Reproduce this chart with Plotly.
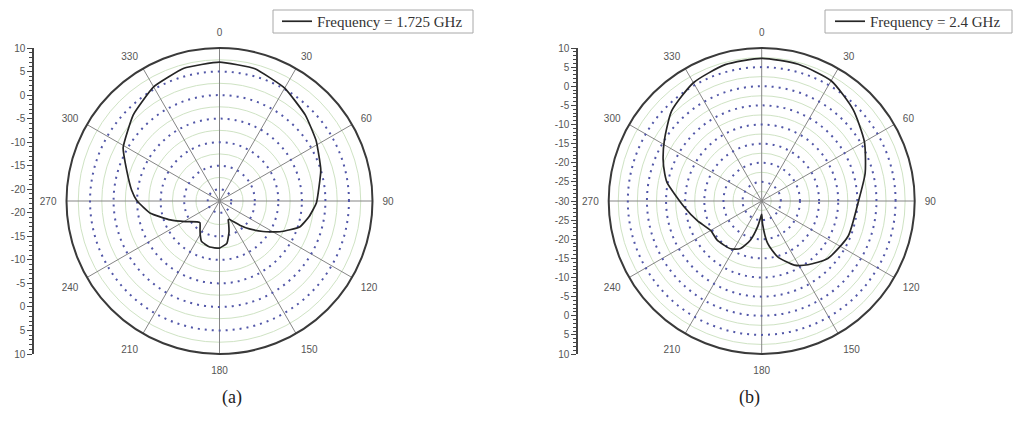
import plotly.graph_objects as go

# ---------------- data ----------------
angle_ticks = [0, 30, 60, 90, 120, 150, 180, 210, 240, 270, 300, 330]

# (a) Frequency = 1.725 GHz
theta_a = [0, 15, 30, 45, 58, 73, 91, 100, 108, 117, 125, 133, 140, 146, 151, 155, 158,
           163, 170, 180, 192, 198, 204, 210, 214, 222, 227, 239, 249, 260, 270, 277,
           288, 299, 315, 330, 345, 360]
r_a = [7.0, 6.6, 5.2, 3.3, 1.7, 0.0, -1.9, -3.2, -4.6, -8.1, -11.2, -13.8, -15.8, -17.2,
       -18.0, -18.1, -17.3, -15.6, -13.4, -12.5, -12.5, -12.8, -13.1, -14.3, -15.1, -16.3,
       -16.0, -14.0, -11.3, -7.6, -5.0, -3.7, -1.8, 0.9, 3.4, 5.5, 6.7, 7.0]

# (b) Frequency = 2.4 GHz
theta_b = [0, 15, 30, 45, 60, 75, 91, 112, 131, 144, 153, 164, 172, 178, 180, 183, 189,
           196, 204, 213, 229, 240, 253, 266, 281, 286, 293, 302, 315, 330, 345, 360]
r_b = [7.3, 7.0, 6.3, 3.8, 1.0, -2.0, -4.8, -5.6, -7.1, -9.4, -11.2, -14.8, -18.8, -24.1,
       -26.5, -25.9, -23.2, -19.4, -16.4, -15.1, -14.5, -14.6, -12.4, -9.6, -4.8, -3.6,
       -2.0, 0.0, 3.3, 5.7, 6.9, 7.3]

range_a = [-22.5, 10]
range_b = [-30, 10]
major_a = [5, 0, -5, -10, -15, -20]
minor_a = [7.5, 2.5, -2.5, -7.5, -12.5, -17.5]
major_b = [5, 0, -5, -10, -15, -20, -25]
minor_b = [7.5, 2.5, -2.5, -7.5, -12.5, -17.5, -22.5, -27.5]
scale_a = [10, 5, 0, -5, -10, -15, -20]
scale_b = [10, 5, 0, -5, -10, -15, -20, -25, -30]

legend_a = "Frequency = 1.725 GHz"
legend_b = "Frequency = 2.4 GHz"

# ---------------- styling ----------------
W, H = 1015, 421
DOT = "#5257a8"
GREEN = "#cfe3c4"
SPOKE = "#858585"
OUTER = "#3a3a3a"
LINE = "#262626"
TXT = "#555555"
SERIF = "Liberation Serif, Times New Roman, serif"
SANS = "Liberation Sans, Arial, sans-serif"


def px_dom(cx, cy, rad):
    return dict(x=[(cx - rad) / W, (cx + rad) / W],
                y=[1 - (cy + rad) / H, 1 - (cy - rad) / H])


dom_a = px_dom(219.5, 201, 153)
dom_b = px_dom(761.7, 201, 153)

fig = go.Figure()

fig.add_trace(go.Scatterpolar(r=[], theta=[], subplot="polar", showlegend=False))
fig.add_trace(go.Scatterpolar(r=[], theta=[], subplot="polar3", showlegend=False))
fig.add_trace(go.Scatterpolar(r=r_a, theta=theta_a, subplot="polar2", mode="lines",
                              line=dict(color=LINE, width=1.7, shape="spline",
                                        smoothing=0.4),
                              name=legend_a, legend="legend", showlegend=True))
fig.add_trace(go.Scatterpolar(r=r_b, theta=theta_b, subplot="polar4", mode="lines",
                              line=dict(color=LINE, width=1.7, shape="spline",
                                        smoothing=0.6),
                              name=legend_b, legend="legend2", showlegend=True))
fig.add_trace(go.Scatter(x=[], y=[], xaxis="x", yaxis="y", showlegend=False))
fig.add_trace(go.Scatter(x=[], y=[], xaxis="x2", yaxis="y2", showlegend=False))


def base_polar(dom, rng, minor):
    return dict(
        domain=dom, bgcolor="white",
        radialaxis=dict(range=rng, tickmode="array", tickvals=minor, showticklabels=False,
                        ticks="", showline=False, gridcolor=GREEN, gridwidth=1),
        angularaxis=dict(rotation=90, direction="clockwise", showgrid=False,
                         showticklabels=False, ticks="", showline=False),
    )


def top_polar(dom, rng, major):
    return dict(
        domain=dom, bgcolor="rgba(0,0,0,0)",
        radialaxis=dict(range=rng, tickmode="array", tickvals=major, showticklabels=False,
                        ticks="", showline=False, gridcolor=DOT, gridwidth=2,
                        griddash="2px,5px"),
        angularaxis=dict(rotation=90, direction="clockwise", tickmode="array",
                         tickvals=angle_ticks, ticktext=[str(a) for a in angle_ticks],
                         showgrid=True, gridcolor=SPOKE, gridwidth=1.2,
                         showline=True, linecolor=OUTER, linewidth=2,
                         ticks="outside", ticklen=7, tickcolor="rgba(0,0,0,0)",
                         tickfont=dict(family=SANS, size=10, color=TXT)),
    )


def scale_axis(center, rng_half, labels, xpos, dom_y):
    vals, txt = [], []
    for v in labels:
        d = v - center
        vals.append(d)
        txt.append(str(v))
        if d > 0:
            vals.append(-d)
            txt.append(str(v))
    return dict(domain=dom_y, range=[-rng_half, rng_half], anchor="free", position=xpos,
                automargin=False,
                tickmode="array", tickvals=vals, ticktext=txt, ticks="outside",
                ticklen=5, tickwidth=1, tickcolor="#444", showline=True,
                linecolor="#444", linewidth=1.5, showgrid=False, zeroline=False,
                tickfont=dict(family=SANS, size=10, color=TXT),
                minor=dict(ticks="outside", ticklen=3, tickcolor="#444",
                           tickmode="linear", tick0=rng_half % 1, dtick=1))


def legend_box(x0, x1):
    return dict(type="rect", xref="paper", yref="paper",
                x0=x0 / W, x1=x1 / W, y0=1 - 33 / H, y1=1 - 10 / H,
                line=dict(color="#a8a8a8", width=1), fillcolor="white", layer="below")


leg_common = dict(yanchor="middle", y=1 - 21.5 / H, xanchor="left",
                  borderwidth=0, bgcolor="rgba(0,0,0,0)",
                  font=dict(family=SERIF, size=15, color="#333"))

fig.update_layout(
    template="none",
    width=W, height=H, margin=dict(l=0, r=0, t=0, b=0, pad=0, autoexpand=False),
    paper_bgcolor="white", plot_bgcolor="rgba(0,0,0,0)", showlegend=True,
    polar=base_polar(dom_a, range_a, minor_a),
    polar2=top_polar(dom_a, range_a, major_a),
    polar3=base_polar(dom_b, range_b, minor_b),
    polar4=top_polar(dom_b, range_b, major_b),
    xaxis=dict(domain=[0, 0.05], visible=False, automargin=False),
    xaxis2=dict(domain=[0.5, 0.55], visible=False, automargin=False),
    yaxis=scale_axis(range_a[0], range_a[1] - range_a[0], scale_a, 33 / W, dom_a["y"]),
    yaxis2=scale_axis(range_b[0], range_b[1] - range_b[0], scale_b, 577 / W, dom_b["y"]),
    legend=dict(x=277 / W, **leg_common),
    legend2=dict(x=830 / W, **leg_common),
    shapes=[legend_box(273, 473), legend_box(825, 1012)],
    annotations=[
        dict(text="(a)", x=219.5 / W, y=1 - 397 / H, xref="paper", yref="paper",
             yanchor="middle", showarrow=False,
             font=dict(family=SERIF, size=18, color="#222")),
        dict(text="(b)", x=761.7 / W, y=1 - 397 / H, xref="paper", yref="paper",
             yanchor="middle", showarrow=False,
             font=dict(family=SERIF, size=18, color="#222")),
    ],
)

fig.write_html(
    "out.html",
    config={"responsive": False, "displayModeBar": False},
    post_script="document.body.style.margin='0';document.body.style.overflow='hidden';",
)
